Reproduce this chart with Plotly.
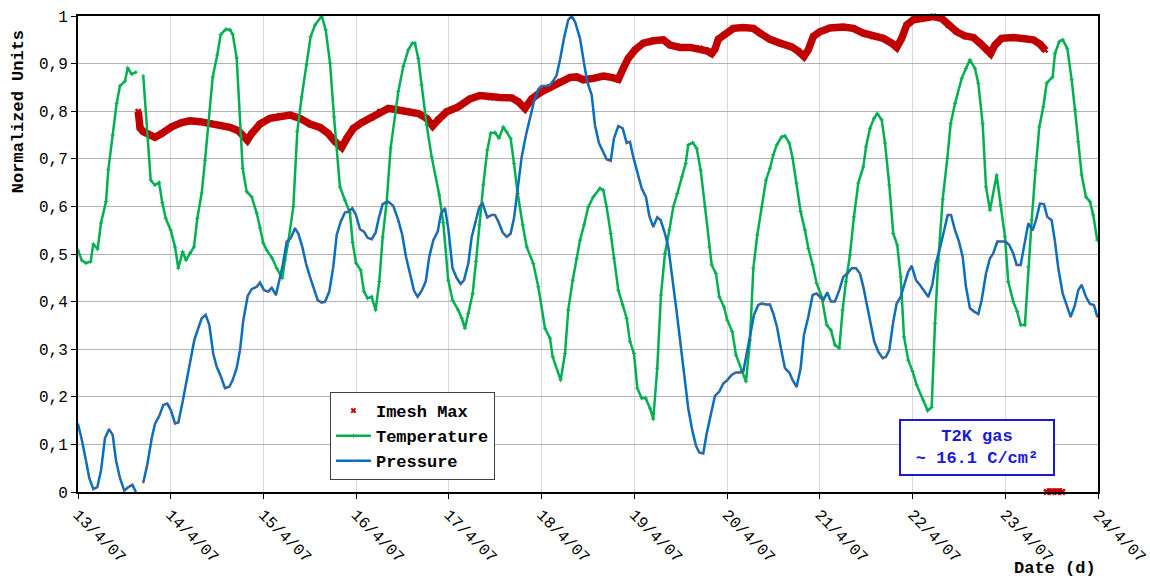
import pandas as pd
import plotly.graph_objects as go

# ---- data (x in days since 13/4/07 00:00) ----
tick_labels = ["13/4/07", "14/4/07", "15/4/07", "16/4/07", "17/4/07", "18/4/07",
               "19/4/07", "20/4/07", "21/4/07", "22/4/07", "23/4/07", "24/4/07"]

temp_days = [0.000, 0.040, 0.086, 0.137, 0.165, 0.212, 0.248, 0.302, 0.327, 0.374, 0.417, 0.453,
             0.507, 0.536, 0.579, 0.625, None,
             0.704, 0.784, 0.830, 0.874, 0.909, 0.946, 1.000, 1.046, 1.082, 1.129, 1.165, 1.208,
             1.251, 1.287, 1.334, 1.370, 1.453, 1.502, 1.539, 1.593, 1.639, 1.668, 1.711, 1.776,
             1.819, 1.873, 1.927, 1.963, 1.998, 2.035, 2.095, 2.143, 2.203, 2.232, 2.268, 2.322,
             2.365, 2.412, 2.466, 2.509, 2.556, 2.628, 2.671, 2.718, 2.761, 2.825, 2.879, 2.933,
             2.962, 2.998, 3.049, 3.084, 3.124, 3.167, 3.210, 3.249, 3.286, 3.329, 3.372, 3.454,
             3.508, 3.562, 3.605, 3.634, 3.670, 3.706, 3.760, 3.814, 3.896, 3.939, 3.993, 4.039,
             4.101, 4.138, 4.173, 4.209, 4.256, 4.292, 4.328, 4.371, 4.414, 4.451, 4.497, 4.540,
             4.586, 4.623, 4.666, 4.702, 4.742, 4.796, 4.839, 4.910, 4.964, 5.036, 5.090, 5.119,
             5.205, 5.252, 5.287, 5.335, 5.378, 5.414, 5.457, 5.503, 5.557, 5.629, 5.665, 5.701,
             5.745, 5.780, 5.827, 5.874, 5.917, 5.953, 5.996, 6.032, 6.079, 6.122, 6.169, 6.204,
             6.247, 6.287, 6.330, 6.377, 6.420, 6.463, 6.510, 6.553, 6.581, 6.629, 6.672, 6.715,
             6.762, 6.808, 6.834, 6.880, 6.916, 6.966, 7.002, 7.056, 7.096, 7.157, 7.204, 7.247,
             7.283, 7.326, 7.373, 7.419, 7.462, 7.498, 7.535, 7.589, 7.624, 7.671, 7.707, 7.750,
             7.793, 7.840, 7.876, 7.923, 7.966, 8.020, 8.074, 8.120, 8.163, 8.210, 8.246, 8.282,
             8.325, 8.368, 8.415, 8.469, 8.498, 8.541, 8.584, 8.620, 8.667, 8.703, 8.749, 8.792,
             8.835, 8.872, 8.908, 8.954, 9.001, 9.044, 9.116, 9.163, 9.206, 9.242, 9.278, 9.325,
             9.375, 9.411, 9.458, 9.530, 9.576, 9.619, 9.673, 9.709, 9.756, 9.792, 9.835, 9.907,
             9.950, 9.997, 10.032, 10.086, 10.129, 10.166, 10.212, 10.248, 10.285, 10.326, 10.367,
             10.410, 10.447, 10.511, 10.536, 10.582, 10.619, 10.669, 10.716, 10.752, 10.787,
             10.824, 10.870, 10.913, 10.949, 10.992]
temperature = [0.508, 0.487, 0.481, 0.484, 0.521, 0.510, 0.565, 0.610, 0.677, 0.750, 0.817, 0.853,
               0.863, 0.891, 0.878, 0.882, None,
               0.874, 0.655, 0.645, 0.650, 0.608, 0.575, 0.550, 0.515, 0.470, 0.505, 0.487, 0.502,
               0.515, 0.575, 0.628, 0.697, 0.872, 0.918, 0.961, 0.972, 0.971, 0.962, 0.912, 0.680,
               0.631, 0.620, 0.586, 0.555, 0.523, 0.508, 0.491, 0.470, 0.449, 0.487, 0.526, 0.599,
               0.757, 0.830, 0.897, 0.957, 0.981, 1.000, 0.971, 0.901, 0.788, 0.641, 0.613, 0.586,
               0.524, 0.481, 0.466, 0.421, 0.407, 0.410, 0.382, 0.442, 0.536, 0.610, 0.723, 0.841,
               0.894, 0.929, 0.943, 0.943, 0.911, 0.855, 0.771, 0.704, 0.624, 0.566, 0.445, 0.403,
               0.382, 0.365, 0.344, 0.375, 0.417, 0.484, 0.561, 0.645, 0.718, 0.754, 0.755, 0.743,
               0.767, 0.757, 0.743, 0.690, 0.627, 0.561, 0.515, 0.480, 0.431, 0.344, 0.323, 0.284,
               0.235, 0.291, 0.382, 0.445, 0.491, 0.529, 0.561, 0.599, 0.620, 0.638, 0.634, 0.599,
               0.543, 0.491, 0.424, 0.393, 0.365, 0.316, 0.291, 0.218, 0.197, 0.197, 0.176, 0.153,
               0.260, 0.414, 0.501, 0.550, 0.599, 0.627, 0.662, 0.690, 0.729, 0.734, 0.722, 0.676,
               0.599, 0.515, 0.477, 0.459, 0.410, 0.389, 0.361, 0.337, 0.288, 0.256, 0.232, 0.319,
               0.470, 0.540, 0.599, 0.655, 0.680, 0.708, 0.729, 0.746, 0.748, 0.733, 0.701, 0.649,
               0.589, 0.550, 0.512, 0.477, 0.438, 0.410, 0.351, 0.340, 0.309, 0.302, 0.382, 0.442,
               0.498, 0.578, 0.649, 0.683, 0.725, 0.764, 0.785, 0.795, 0.782, 0.733, 0.645, 0.543,
               0.519, 0.452, 0.326, 0.277, 0.253, 0.225, 0.193, 0.171, 0.178, 0.354, 0.487, 0.615,
               0.701, 0.774, 0.816, 0.869, 0.890, 0.908, 0.890, 0.859, 0.774, 0.641, 0.592, 0.666,
               0.603, 0.536, 0.442, 0.400, 0.379, 0.351, 0.351, 0.473, 0.571, 0.676, 0.767,
               0.809, 0.859, 0.872, 0.921, 0.946, 0.950, 0.932, 0.866, 0.803, 0.736,
               0.666, 0.620, 0.610, 0.582, 0.529]

press_days = [0.000, 0.040, 0.086, 0.122, 0.165, 0.208, 0.248, 0.291, 0.334, 0.374, 0.410, 0.453,
              0.499, 0.542, 0.586, 0.625, None,
              0.704, 0.747, 0.795, 0.830, 0.877, 0.920, 0.963, 1.003, 1.046, 1.082, 1.129, 1.165,
              1.208, 1.254, 1.297, 1.334, 1.377, 1.416, 1.459, 1.496, 1.542, 1.585, 1.632, 1.668,
              1.711, 1.747, 1.783, 1.830, 1.873, 1.927, 1.963, 2.006, 2.052, 2.089, 2.135, 2.171,
              2.208, 2.251, 2.294, 2.340, 2.376, 2.419, 2.459, 2.502, 2.545, 2.585, 2.628, 2.664,
              2.710, 2.753, 2.790, 2.833, 2.879, 2.915, 2.958, 2.998, 3.041, 3.084, 3.124, 3.167,
              3.210, 3.246, 3.286, 3.346, 3.400, 3.454, 3.497, 3.537, 3.580, 3.623, 3.663, 3.706,
              3.750, 3.788, 3.832, 3.879, 3.915, 3.958, 3.993, 4.039, 4.083, 4.127, 4.163, 4.209,
              4.246, 4.292, 4.328, 4.364, 4.414, 4.461, 4.497, 4.533, 4.580, 4.623, 4.666, 4.702,
              4.738, 4.785, 4.831, 4.874, 4.917, 4.964, 5.000, 5.047, 5.090, 5.133, 5.162, 5.198,
              5.241, 5.287, 5.324, 5.360, 5.414, 5.457, 5.492, 5.540, 5.575, 5.618, 5.665, 5.701,
              5.745, 5.780, 5.827, 5.874, 5.917, 5.953, 5.988, 6.042, 6.079, 6.125, 6.161, 6.204,
              6.247, 6.284, 6.330, 6.366, 6.413, 6.456, 6.499, 6.538, 6.581, 6.624, 6.665, 6.700,
              6.743, 6.780, 6.823, 6.869, 6.916, 6.959, 7.002, 7.049, 7.096, 7.139, 7.175, 7.211,
              7.247, 7.290, 7.336, 7.373, 7.419, 7.462, 7.498, 7.538, 7.578, 7.624, 7.671, 7.707,
              7.750, 7.793, 7.829, 7.876, 7.923, 7.966, 8.001, 8.037, 8.080, 8.120, 8.163, 8.210,
              8.253, 8.296, 8.344, 8.390, 8.433, 8.469, 8.505, 8.541, 8.587, 8.630, 8.678, 8.713,
              8.749, 8.792, 8.829, 8.872, 8.918, 8.954, 8.991, 9.037, 9.080, 9.123, 9.170, 9.213,
              9.250, 9.296, 9.339, 9.379, 9.415, 9.458, 9.501, 9.541, 9.576, 9.619, 9.665, 9.709,
              9.745, 9.792, 9.835, 9.870, 9.914, 9.961, 10.004, 10.043, 10.086, 10.123, 10.166,
              10.212, 10.248, 10.296, 10.331, 10.374, 10.417, 10.453, 10.500, 10.536, 10.572,
              10.619, 10.662, 10.705, 10.752, 10.787, 10.824, 10.870, 10.913, 10.956, 10.992]
pressure = [0.143, 0.111, 0.066, 0.029, 0.006, 0.010, 0.045, 0.113, 0.132, 0.120, 0.066, 0.029,
            0.003, 0.010, 0.015, 0.000, None,
            0.020, 0.057, 0.113, 0.143, 0.160, 0.183, 0.186, 0.171, 0.144, 0.146, 0.190, 0.225,
            0.270, 0.319, 0.344, 0.365, 0.372, 0.351, 0.290, 0.263, 0.242, 0.218, 0.221, 0.235,
            0.260, 0.298, 0.361, 0.412, 0.426, 0.431, 0.440, 0.424, 0.421, 0.429, 0.414, 0.445,
            0.477, 0.526, 0.533, 0.554, 0.543, 0.515, 0.480, 0.452, 0.428, 0.403, 0.398, 0.400,
            0.421, 0.473, 0.540, 0.568, 0.587, 0.589, 0.596, 0.582, 0.552, 0.547, 0.534, 0.531,
            0.545, 0.577, 0.605, 0.610, 0.601, 0.571, 0.540, 0.494, 0.459, 0.423, 0.410, 0.423,
            0.442, 0.494, 0.529, 0.547, 0.585, 0.596, 0.554, 0.470, 0.450, 0.437, 0.445, 0.480,
            0.536, 0.571, 0.599, 0.606, 0.577, 0.582, 0.582, 0.568, 0.545, 0.536, 0.543, 0.575,
            0.627, 0.704, 0.750, 0.788, 0.820, 0.846, 0.853, 0.853, 0.855, 0.866, 0.876, 0.908,
            0.953, 0.992, 1.000, 0.988, 0.953, 0.901, 0.862, 0.834, 0.771, 0.733, 0.715, 0.699,
            0.696, 0.743, 0.769, 0.764, 0.733, 0.736, 0.704, 0.662, 0.638, 0.620, 0.580, 0.557,
            0.577, 0.571, 0.543, 0.515, 0.449, 0.379, 0.309, 0.246, 0.176, 0.130, 0.097, 0.083,
            0.081, 0.123, 0.165, 0.202, 0.211, 0.228, 0.235, 0.246, 0.251, 0.251, 0.253, 0.290,
            0.326, 0.372, 0.393, 0.396, 0.394, 0.394, 0.375, 0.347, 0.304, 0.260, 0.251, 0.235,
            0.221, 0.260, 0.330, 0.368, 0.414, 0.417, 0.410, 0.403, 0.419, 0.400, 0.400, 0.424,
            0.452, 0.459, 0.470, 0.470, 0.459, 0.431, 0.396, 0.358, 0.316, 0.295, 0.281, 0.284,
            0.298, 0.358, 0.396, 0.410, 0.442, 0.463, 0.475, 0.445, 0.435, 0.424, 0.410, 0.435,
            0.480, 0.512, 0.550, 0.582, 0.582, 0.550, 0.526, 0.494, 0.431, 0.386, 0.379, 0.374,
            0.403, 0.459, 0.491, 0.501, 0.526, 0.526, 0.526, 0.519, 0.501, 0.477, 0.477,
            0.526, 0.564, 0.550, 0.571, 0.606, 0.605, 0.578, 0.571, 0.526, 0.470,
            0.417, 0.393, 0.368, 0.393, 0.424, 0.435, 0.410, 0.395, 0.393, 0.368]

imesh_days = [0.650, 0.661, 0.669, 0.704, 0.776, 0.830, 0.903, 1.010, 1.118, 1.208, 1.316, 1.423,
              1.531, 1.639, 1.729, 1.783, 1.826, 1.873, 1.963, 2.071, 2.178, 2.286, 2.394, 2.502,
              2.610, 2.699, 2.772, 2.844, 2.898, 2.969, 3.059, 3.167, 3.257, 3.346, 3.437, 3.545,
              3.670, 3.760, 3.825, 3.885, 3.976, 4.101, 4.227, 4.335, 4.443, 4.551, 4.677, 4.748,
              4.820, 4.893, 4.982, 5.090, 5.198, 5.306, 5.378, 5.449, 5.557, 5.665, 5.755, 5.827,
              5.880, 5.934, 6.007, 6.096, 6.204, 6.312, 6.384, 6.492, 6.600, 6.707, 6.780, 6.834,
              6.869, 6.905, 6.977, 7.067, 7.175, 7.283, 7.355, 7.462, 7.570, 7.696, 7.767, 7.829,
              7.876, 7.930, 8.001, 8.109, 8.253, 8.361, 8.469, 8.577, 8.685, 8.775, 8.829, 8.883,
              8.937, 9.008, 9.116, 9.224, 9.314, 9.386, 9.476, 9.565, 9.655, 9.727, 9.799, 9.842,
              9.889, 9.961, 10.086, 10.212, 10.302, 10.374, 10.428, None,
              10.445, 10.500, 10.560, 10.615]
imesh_max = [0.799, 0.771, 0.765, 0.757, 0.748, 0.745, 0.753, 0.767, 0.776, 0.780, 0.778, 0.775,
             0.771, 0.766, 0.759, 0.746, 0.739, 0.753, 0.773, 0.785, 0.790, 0.792, 0.785, 0.773,
             0.766, 0.753, 0.736, 0.724, 0.743, 0.764, 0.776, 0.787, 0.799, 0.806, 0.803, 0.799,
             0.795, 0.785, 0.769, 0.782, 0.799, 0.809, 0.826, 0.833, 0.829, 0.829, 0.828, 0.820,
             0.806, 0.826, 0.839, 0.850, 0.862, 0.871, 0.872, 0.866, 0.869, 0.874, 0.871, 0.867,
             0.890, 0.911, 0.929, 0.943, 0.948, 0.950, 0.939, 0.934, 0.934, 0.932, 0.927, 0.921,
             0.930, 0.951, 0.962, 0.974, 0.976, 0.974, 0.964, 0.951, 0.943, 0.935, 0.926, 0.915,
             0.929, 0.957, 0.967, 0.975, 0.977, 0.974, 0.964, 0.957, 0.953, 0.943, 0.934, 0.953,
             0.981, 0.992, 0.997, 0.999, 0.995, 0.981, 0.967, 0.958, 0.955, 0.943, 0.929, 0.921,
             0.939, 0.953, 0.955, 0.953, 0.950, 0.941, 0.929, None,
             0.000, 0.000, 0.000, 0.000]

start = pd.Timestamp("2007-04-13")


def to_dates(days):
    return [None if d is None else start + pd.Timedelta(days=d) for d in days]


tick_dates = [start + pd.Timedelta(days=i) for i in range(len(tick_labels))]

FONT = "Liberation Mono, Courier New, monospace"
RED = "#c00000"
GREEN = "#00b050"
BLUE = "#0070c0"

fig = go.Figure()

fig.add_trace(go.Scatter(
    x=to_dates(imesh_days), y=imesh_max, mode="lines+markers",
    line=dict(color=RED, width=7.5), marker=dict(symbol="x", size=6, color=RED),
    showlegend=False, connectgaps=False, hoverinfo="skip", cliponaxis=False))
# legend entry (marker only)
fig.add_trace(go.Scatter(
    x=[None], y=[None], mode="markers", name="Imesh Max",
    marker=dict(symbol="x", size=5, color=RED)))
fig.add_trace(go.Scatter(
    x=to_dates(temp_days), y=temperature, mode="lines+markers", name="Temperature",
    line=dict(color=GREEN, width=2.5), marker=dict(size=3, color=GREEN, symbol="cross-thin",
                                                   line=dict(color=GREEN, width=1)),
    connectgaps=False))
fig.add_trace(go.Scatter(
    x=to_dates(press_days), y=pressure, mode="lines+markers", name="Pressure",
    line=dict(color=BLUE, width=2.5), marker=dict(size=2, color="#c04040"),
    connectgaps=False))

fig.update_layout(
    width=1150, height=581,
    margin=dict(l=78, r=52, t=16, b=89, autoexpand=False),
    paper_bgcolor="white", plot_bgcolor="white",
    separators=", ",
    font=dict(family=FONT, size=16, color="black"),
    legend=dict(
        x=0.247, y=0.21, xanchor="left", yanchor="top",
        bgcolor="white", bordercolor="#404040", borderwidth=1,
        font=dict(family=FONT, size=17, color="black", weight="bold"),
        tracegroupgap=0, itemwidth=35,
    ),
    xaxis=dict(
        type="date", automargin=False,
        range=[tick_dates[0], tick_dates[-1]],
        tickvals=tick_dates, ticktext=tick_labels, tickangle=45,
        tickfont=dict(family=FONT, size=16, color="black"),
        showgrid=True, gridcolor="#d9d9d9", gridwidth=1,
        showline=True, linecolor="black", linewidth=2, mirror=True,
        ticks="outside", ticklen=5, tickcolor="black",
        zeroline=False,
    ),
    yaxis=dict(
        automargin=False,
        range=[0, 1], dtick=0.1, tick0=0,
        tickfont=dict(family=FONT, size=16, color="black"),
        showgrid=True, gridcolor="#b3b3b3", gridwidth=1,
        showline=True, linecolor="black", linewidth=2, mirror=True,
        ticks="outside", ticklen=5, tickcolor="black",
        zeroline=False,
    ),
    annotations=[
        dict(text="Normalized Units", xref="paper", yref="paper",
             x=-0.0588, y=0.798, textangle=-90, showarrow=False,
             font=dict(family=FONT, size=17, color="black", weight="bold"),
             xanchor="center", yanchor="middle"),
        dict(text="Date (d)", xref="paper", yref="paper",
             x=1.0, y=-0.16, xanchor="right", yanchor="middle", showarrow=False,
             font=dict(family=FONT, size=17, color="black", weight="bold")),
        dict(text="T2K gas<br>~ 16.1 C/cm²", xref="paper", yref="paper",
             x=0.881, y=0.0945, xanchor="center", yanchor="middle", showarrow=False,
             font=dict(family=FONT, size=17, color="#1a1ad6", weight="bold"),
             bordercolor="#1a1ad6", borderwidth=2, borderpad=6, bgcolor="white",
             width=140, align="center"),
    ],
)

fig.write_html("out.html", config={"displayModeBar": False},
               post_script="document.body.style.margin='0';document.body.style.overflow='hidden';")
